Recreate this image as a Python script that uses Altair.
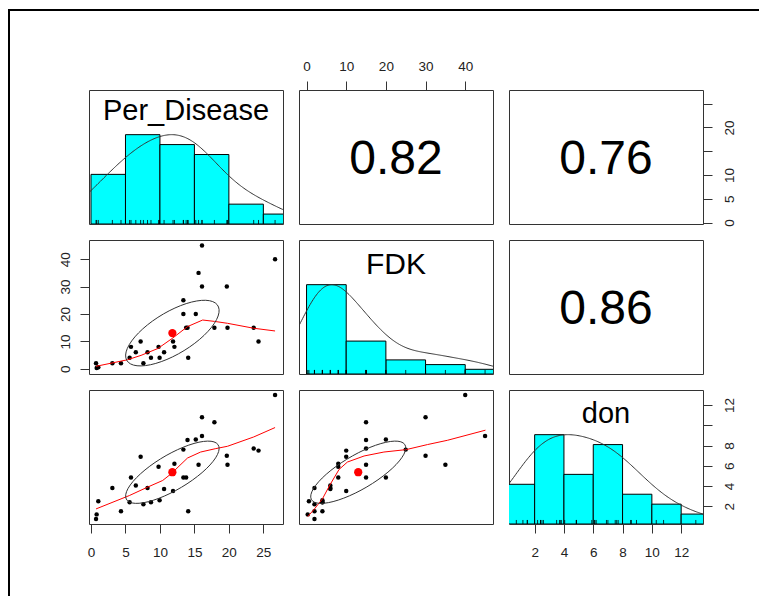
import altair as alt
import pandas as pd
import numpy as np

# ---------------- data ----------------
per_disease = [0.73, 0.82, 1.06, 3.1, 4.35, 5.6, 5.8, 6.5, 7.2, 7.6, 8.2, 8.7, 9.8, 9.95, 10.6, 11.9,
               12.1, 13.4, 13.4, 13.8, 14.0, 14.1, 15.2, 15.6, 16.1, 16.1, 17.9, 19.7, 19.8, 23.6, 24.3, 26.7]
fdk = [2, 0.3, 0.6, 2, 2, 4, 8, 6, 10, 2, 6, 4, 8, 4, 6, 10,
       8, 25, 20, 15, 15, 4, 20, 35, 45, 30, 15, 30, 15, 15, 10, 40]
don = [0.75, 1.2, 2.5, 3.8, 1.5, 2.4, 4.85, 4.05, 6.9, 2.2, 3.8, 2.4, 5.9, 2.6, 3.7, 3.5,
       6.2, 7.6, 4.85, 4.85, 8.55, 1.5, 8.6, 6.1, 8.95, 10.8, 10.3, 7.0, 6.1, 7.7, 7.5, 13.0]

var_names = ["Per_Disease", "FDK", "don"]
corr_labels = ["0.82", "0.76", "0.86"]
bin_width = [5, 10, 2]

# smoothed (lowess) lines
smooth_pd_fdk_x = [0.73, 5.3, 7.26, 9.7, 11.9, 14.0, 16.2, 17.9, 19.8, 23.6, 26.7]
smooth_pd_fdk_y = [0.9, 3.3, 4.9, 7.4, 11.3, 15.4, 17.8, 17.3, 16.6, 14.8, 13.8]
smooth_pd_don_x = [0.73, 5.56, 8.2, 10.4, 11.6, 14.0, 15.9, 18.1, 19.8, 23.6, 26.7]
smooth_pd_don_y = [1.74, 3.06, 3.89, 4.55, 5.2, 6.77, 7.36, 7.7, 7.93, 8.85, 9.78]
smooth_fdk_don_x = [0.3, 2.0, 4.0, 5.9, 8.2, 10.3, 14.5, 19.5, 25.1, 30.5, 35.5, 45.1]
smooth_fdk_don_y = [0.98, 1.74, 2.73, 4.12, 5.64, 6.37, 6.97, 7.36, 7.6, 8.1, 8.52, 9.52]

# axis tick values
ticks_pd = [0, 5, 10, 15, 20, 25]
ticks_fdk = [0, 10, 20, 30, 40]
ticks_don = [2, 4, 6, 8, 10, 12]

df = pd.DataFrame({"Per_Disease": per_disease, "FDK": fdk, "don": don})

# ---------------- layout / style ----------------
W, H = 194, 134
FONT = "Liberation Sans"
domains = {"Per_Disease": [-0.29, 27.85], "FDK": [-1.9, 47.0], "don": [0.25, 13.49]}


def sc(v):
    return alt.Scale(domain=domains[v], nice=False, zero=False)


y01 = alt.Scale(domain=[0, 1.5], nice=False, zero=False)

base_axis = dict(title=None, grid=False, domain=False, ticks=True, tickSize=9, tickColor="#333",
                 tickWidth=1, labelFont=FONT, labelFontSize=13.5, labelColor="#222",
                 labelOverlap=False, labelFlush=False)
ax_top_fdk = alt.Axis(orient="top", values=ticks_fdk, labelPadding=8, **base_axis)
ax_bottom_pd = alt.Axis(orient="bottom", values=ticks_pd, labelPadding=12, **base_axis)
ax_bottom_don = alt.Axis(orient="bottom", values=ticks_don, labelPadding=12, **base_axis)
ax_left_fdk = alt.Axis(orient="left", values=ticks_fdk, labelAngle=270, labelAlign="center",
                       labelBaseline="bottom", labelPadding=8, **base_axis)
ax_right_pd = alt.Axis(orient="right", values=ticks_pd, labelAngle=270, labelAlign="center",
                       labelBaseline="top", labelPadding=10,
                       labelExpr="datum.value == 15 || datum.value == 25 ? '' : datum.label", **base_axis)
ax_right_don = alt.Axis(orient="right", values=ticks_don, labelAngle=270, labelAlign="center",
                        labelBaseline="top", labelPadding=10,
                        labelExpr="datum.value == 10 ? '' : datum.label", **base_axis)


def diag_panel(i, x_axis=None, y_axis=None, label_y=30, label_size=28, extra=None):
    v = var_names[i]
    w = bin_width[i]
    xs = sc(v)
    k = f"_{i}"

    def X(f):
        return alt.X(f, type="quantitative", scale=xs, axis=x_axis)

    hist = alt.Chart(df).transform_calculate(
        **{"b0" + k: f"max(0, ceil(datum['{v}'] / {w}) - 1) * {w}"}
    ).transform_aggregate(
        **{"n" + k: "count()"}, groupby=["b0" + k]
    ).transform_joinaggregate(
        **{"mx" + k: f"max(n{k})"}
    ).transform_calculate(
        **{"b1" + k: f"datum.b0{k} + {w}", "h" + k: f"datum.n{k} / datum.mx{k}"}
    ).mark_rect(fill="#00FFFF", stroke="black", strokeWidth=1, clip=True).encode(
        x=X("b0" + k), x2=f"b1{k}:Q",
        y=alt.Y(f"h{k}:Q", scale=y01, axis=None), y2=alt.Y2Datum(0),
    )

    vals = np.array(df[v], dtype=float)
    q1, q3 = np.percentile(vals, [25, 75])
    bw = 1.06 * min(vals.std(ddof=1), (q3 - q1) / 1.34) * len(vals) ** (-0.2) * 1.2
    dens = alt.Chart(df).transform_density(
        v, as_=["dx" + k, "density" + k], bandwidth=float(bw),
        extent=[float(vals.min() - 3 * bw), float(vals.max() + 3 * bw)], steps=300
    ).transform_joinaggregate(
        **{"dmax" + k: f"max(density{k})"}
    ).transform_calculate(
        **{"dn" + k: f"datum.density{k} / datum.dmax{k}"}
    ).mark_line(clip=True, color="#333", strokeWidth=1).encode(
        x=X("dx" + k), y=alt.Y(f"dn{k}:Q", scale=y01, axis=None)
    )

    rug = alt.Chart(df).mark_rule(color="black", strokeWidth=0.8).encode(
        x=X(v), y=alt.YDatum(0, scale=y01, axis=None), y2=alt.Y2Datum(0.045)
    )

    lab = alt.Chart(pd.DataFrame({"t": [v]})).mark_text(
        font=FONT, fontSize=label_size, color="black", baseline="alphabetic", align="center"
    ).encode(text="t:N", x=alt.value(W / 2), y=alt.value(label_y))

    layers = [hist, dens, rug, lab]
    if extra is not None:
        layers = extra + layers
    if y_axis is not None:
        ylay = alt.Chart(df).mark_point(opacity=0).encode(
            x=X(v), y=alt.Y(f"{v}:Q", scale=sc(v), axis=y_axis)
        )
        return alt.layer(*layers, ylay).resolve_scale(y="independent").properties(width=W, height=H)
    return alt.layer(*layers).properties(width=W, height=H)


def scatter_panel(xv, yv, lx, ly, x_axis=None, y_axis=None):
    xs, ys = sc(xv), sc(yv)
    k = f"_{xv}_{yv}"

    def X(f):
        return alt.X(f, type="quantitative", scale=xs, axis=x_axis)

    def Y(f):
        return alt.Y(f, type="quantitative", scale=ys, axis=y_axis)

    pts = alt.Chart(df).mark_circle(color="black", size=20, opacity=1).encode(x=X(xv), y=Y(yv))
    lo = alt.Chart(pd.DataFrame({"lx" + k: lx, "ly" + k: ly})).mark_line(
        color="red", strokeWidth=1).encode(x=X("lx" + k), y=Y("ly" + k))
    mean = alt.Chart(df).transform_aggregate(
        **{"mx" + k: f"mean({xv})", "my" + k: f"mean({yv})"}
    ).mark_circle(color="red", size=68, opacity=1).encode(x=X("mx" + k), y=Y("my" + k))

    # correlation ellipse (1 sd), as in psych::draw.ellipse
    x = np.array(df[xv], dtype=float)
    y = np.array(df[yv], dtype=float)
    xm, ym, sx, sy = x.mean(), y.mean(), x.std(ddof=1), y.std(ddof=1)
    r = np.corrcoef(x, y)[0, 1]
    th = np.sign(r) / np.sqrt(2)
    ang = np.arange(52) * 2 * np.pi / 51
    e1 = np.cos(ang) * np.sqrt(1 + r) * th - np.sin(ang) * np.sqrt(1 - r) * th
    e2 = np.cos(ang) * np.sqrt(1 + r) * th + np.sin(ang) * np.sqrt(1 - r) * th
    edf = pd.DataFrame({"ex" + k: e1 * sx + xm, "ey" + k: e2 * sy + ym, "i" + k: np.arange(52)})
    ell = alt.Chart(edf).mark_line(color="#333", strokeWidth=1).encode(
        x=X("ex" + k), y=Y("ey" + k), order=f"i{k}:Q"
    )
    return alt.layer(pts, lo, mean, ell).properties(width=W, height=H)


def upper_panel(txt, xvar=None, x_axis=None, yvar=None, y_axis=None):
    layers = []
    if xvar is not None:
        layers.append(alt.Chart(df).mark_point(opacity=0).encode(
            x=alt.X(f"{xvar}:Q", scale=sc(xvar), axis=x_axis)))
    if yvar is not None:
        layers.append(alt.Chart(df).mark_point(opacity=0).encode(
            y=alt.Y(f"{yvar}:Q", scale=sc(yvar), axis=y_axis)))
    t = alt.Chart(pd.DataFrame({"t": [txt]})).mark_text(
        font=FONT, fontSize=48, color="black", baseline="alphabetic", align="center"
    ).encode(text="t:N", x=alt.value(W / 2), y=alt.value(84))
    layers.append(t)
    return alt.layer(*layers).properties(width=W, height=H)


# decorative outer frame (part of the screenshot)
frame_df = pd.DataFrame({"k": [0]})
frame_left = alt.Chart(frame_df).mark_rule(color="black", strokeWidth=2, strokeCap="square").encode(
    x=alt.value(-80), y=alt.value(-80), y2=alt.value(505))
frame_top = alt.Chart(frame_df).mark_rule(color="black", strokeWidth=2, strokeCap="square").encode(
    x=alt.value(-80), x2=alt.value(669), y=alt.value(-80))

p11 = diag_panel(0, label_y=30, label_size=29, extra=[frame_left, frame_top])
p12 = upper_panel(corr_labels[0], xvar="FDK", x_axis=ax_top_fdk)
p13 = upper_panel(corr_labels[1], yvar="Per_Disease", y_axis=ax_right_pd)
p21 = scatter_panel("Per_Disease", "FDK", smooth_pd_fdk_x, smooth_pd_fdk_y, y_axis=ax_left_fdk)
p22 = diag_panel(1, label_y=34, label_size=30)
p23 = upper_panel(corr_labels[2])
p31 = scatter_panel("Per_Disease", "don", smooth_pd_don_x, smooth_pd_don_y, x_axis=ax_bottom_pd)
p32 = scatter_panel("FDK", "don", smooth_fdk_don_x, smooth_fdk_don_y)
p33 = diag_panel(2, x_axis=ax_bottom_don, y_axis=ax_right_don, label_y=33, label_size=29)

chart = alt.concat(
    p11, p12, p13, p21, p22, p23, p31, p32, p33, columns=3, spacing=16, bounds="flush"
).properties(
    padding={"left": 7, "top": 8, "right": 0, "bottom": 0}
).configure_view(stroke="#333", strokeWidth=1)

chart.save("out.html", embed_options={"renderer": "svg", "actions": False})
